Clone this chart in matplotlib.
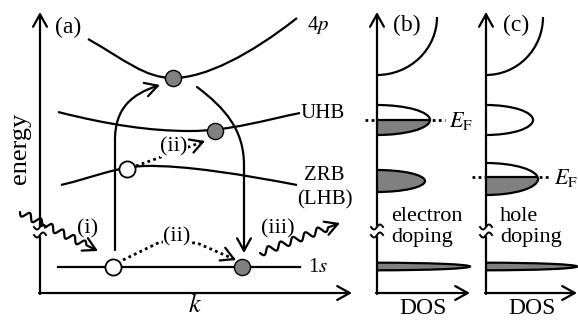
import numpy as np
import matplotlib.pyplot as plt
from matplotlib.path import Path
from matplotlib.patches import FancyArrowPatch, PathPatch, Ellipse, Arc, Rectangle

plt.rcParams['font.family'] = 'Liberation Serif'
plt.rcParams['mathtext.fontset'] = 'stix'

# everything is laid out in image pixels (x to the right, y downwards)

# panel (a): band dispersions, cubic Bezier control points
band_4p = [(88, 39), (125, 60), (145, 78), (173, 78), (205, 78), (250, 55), (297, 18)]
band_uhb = [(58, 112), (110, 125), (150, 131), (190, 131), (230, 131), (265, 120), (300, 113)]
band_zrb = [(61, 185), (95, 177), (115, 167), (145, 166), (185, 165), (245, 175), (297, 185)]
band_1s = [(58, 267), (300, 267)]

# occupied (grey) and empty (white) states
empty_x = [113, 127]
empty_y = [267, 169]
full_x = [173, 215, 242]
full_y = [78, 131, 267]

# transitions
excite_path = [(115, 250), (115, 140), (115, 108), (132, 94), (160, 85)]
decay_path = [(197, 87), (225, 108), (244, 130), (244, 165), (244, 253)]
hop_low = [(123, 260), (160, 242), (197, 243), (236, 260)]
hop_up = [(136, 166), (205, 141)]

# panels (b), (c): density of states
panel_names = ['(b)', '(c)']
axis_x = [377, 486]
axis_right = [470, 577]
fermi_y = [120, 177]
fermi_from = [365, 472]
fermi_to = [445, 550]
p4_width = [60, 57]
uhb_mid = [120, 120]
uhb_half = [15, 15]
uhb_peak = [53, 47]
lhb_mid = [181, 179]
lhb_half = [11, 16]
lhb_peak = [48, 52]
s1_mid = [266.5, 266.5]
s1_peak = [93, 91]
doping = ['electron\ndoping', 'hole\ndoping']
uhb_fill = [120, 999]   # grey below this y
lhb_fill = [0, 177]

LW = 1.6
GREY = '#808080'
HEAD = '->,head_length=9,head_width=5'
DOT = (0, (1, 1.2))

fig = plt.figure(figsize=(5.78, 3.23), dpi=100)
ax = fig.add_axes([0, 0, 1, 1])
ax.set_xlim(0, 578)
ax.set_ylim(323, 0)
ax.axis('off')


def bezier(pts, **kw):
    codes = [Path.MOVETO] + [Path.CURVE4] * (len(pts) - 1)
    ax.add_patch(PathPatch(Path(pts, codes), fill=False, lw=LW, **kw))


def arrow(x0, y0, x1, y1, z=3):
    ax.add_patch(FancyArrowPatch((x0, y0), (x1, y1), shrinkA=0, shrinkB=0,
                                 arrowstyle=HEAD, lw=LW, color='k', zorder=z))


def path_arrow(pts, codes, z=3):
    ax.add_patch(FancyArrowPatch(path=Path(pts, codes), arrowstyle=HEAD,
                                 lw=LW, color='k', zorder=z))


def dotted_arrow(xs, ys):
    # dotted shaft, solid head
    ax.plot(xs, ys, color='k', lw=2.0, ls=DOT, zorder=3)
    dx, dy = xs[-1] - xs[-2], ys[-1] - ys[-2]
    L = np.hypot(dx, dy)
    arrow(xs[-1] - dx / L * 3, ys[-1] - dy / L * 3, xs[-1], ys[-1])


def wavy(p0, p1, periods, amp):
    p0, p1 = np.array(p0, float), np.array(p1, float)
    d = p1 - p0
    n = np.array([-d[1], d[0]]) / np.hypot(*d)
    t = np.linspace(0, 0.85, 160)
    pts = p0 + np.outer(t, d) + np.outer(amp * np.sin(2 * np.pi * periods * t / 0.85), n)
    pts = np.vstack([pts, p1])
    path_arrow(pts, [Path.MOVETO] + [Path.LINETO] * (len(pts) - 1))


def axis_break(x, y):
    ax.add_patch(Rectangle((x - 3, y - 4), 6, 8, color='white', zorder=4))
    xs = np.linspace(x - 6, x + 6, 30)
    for yy in (y - 4, y + 4):
        ax.plot(xs, yy - 2.5 * np.sin((xs - x) / 6 * np.pi), color='k', lw=1.4, zorder=5)


# ---- panel (a) ----
arrow(40, 294, 40, 12)
arrow(39, 293, 352, 293)
axis_break(40, 231)

for b in (band_4p, band_uhb, band_zrb):
    bezier(b, color='k')
ax.plot(*zip(*band_1s), color='k', lw=LW)

path_arrow(excite_path, [Path.MOVETO, Path.LINETO, Path.CURVE4, Path.CURVE4, Path.CURVE4])
path_arrow(decay_path, [Path.MOVETO, Path.CURVE4, Path.CURVE4, Path.CURVE4, Path.LINETO])
dotted_arrow([p[0] for p in hop_low], [p[1] for p in hop_low])
dotted_arrow([p[0] for p in hop_up], [p[1] for p in hop_up])

ax.scatter(empty_x, empty_y, s=135, c='white', edgecolors='k', linewidths=1.3, zorder=6)
ax.scatter(full_x, full_y, s=135, c=GREY, edgecolors='k', linewidths=1.0, zorder=6)

wavy((20, 212), (98, 251), 6, 3.5)
wavy((260, 253), (340, 223), 5.5, 3.5)

ax.text(68, 27, '(a)', fontsize=17, ha='center', va='center')
ax.text(318, 25, '4$p$', fontsize=15, ha='center', va='center')
ax.text(323, 113, 'UHB', fontsize=15, ha='center', va='center')
ax.text(324, 175, 'ZRB', fontsize=15, ha='center', va='center')
ax.text(325, 200, '(LHB)', fontsize=15, ha='center', va='center')
ax.text(318, 268, '1$s$', fontsize=15, ha='center', va='center')
ax.text(88, 229, '(i)', fontsize=16, ha='center', va='center')
ax.text(177, 237, '(ii)', fontsize=16, ha='center', va='center', zorder=7,
        bbox=dict(fc='white', ec='none', pad=0.5))
ax.text(174, 147, '(ii)', fontsize=16, ha='center', va='center', zorder=7,
        bbox=dict(fc='white', ec='none', pad=0.5))
ax.text(278, 229, '(iii)', fontsize=16, ha='center', va='center')
ax.text(20, 148, 'energy', fontsize=19, rotation=90, ha='center', va='center')
ax.text(195, 306, '$k$', fontsize=19, ha='center', va='center')

# ---- panels (b), (c) ----
for i in range(2):
    x0 = axis_x[i]
    arrow(x0, 294, x0, 12)
    arrow(x0 - 1, 293, axis_right[i], 293)
    axis_break(x0, 231)

    w = p4_width[i]
    ax.add_patch(Arc((x0, 17), 2 * w, 116, theta1=0, theta2=90, lw=LW, color='k'))

    ax.plot([fermi_from[i], fermi_to[i]], [fermi_y[i]] * 2, color='k', lw=2.0,
            ls=DOT, zorder=1)

    lobes = [(uhb_mid[i], uhb_half[i], uhb_peak[i], uhb_fill[i]),
             (lhb_mid[i], lhb_half[i], lhb_peak[i], lhb_fill[i]),
             (s1_mid[i], 3.8, s1_peak[i], 0)]
    for yc, hh, pk, fill_y in lobes:
        clip = Rectangle((x0, yc - hh - 3), pk + 4, 2 * hh + 6, transform=ax.transData)
        e = Ellipse((x0, yc), 2 * pk, 2 * hh, fc='white', ec='none', zorder=2)
        ax.add_patch(e)
        e.set_clip_path(clip)
        g = Ellipse((x0, yc), 2 * pk, 2 * hh, fc=GREY, ec='none', zorder=2)
        ax.add_patch(g)
        g.set_clip_path(Rectangle((x0, max(fill_y, yc - hh - 3)), pk + 4, 2 * hh + 6,
                                  transform=ax.transData))
        o = Ellipse((x0, yc), 2 * pk, 2 * hh, fc='none', ec='k', lw=LW, zorder=3)
        ax.add_patch(o)
        o.set_clip_path(clip)
        if yc - hh < fermi_y[i] < yc + hh:
            ln, = ax.plot([x0, x0 + pk], [fermi_y[i]] * 2, color='k', lw=LW, zorder=3)
            ln.set_clip_path(Ellipse((x0, yc), 2 * pk, 2 * hh, transform=ax.transData))

    ax.text(fermi_to[i] + 4, fermi_y[i] + 1, '$E_{\\mathrm{F}}$', fontsize=16,
            ha='left', va='center')
    ax.text(x0 + 30, 25, panel_names[i], fontsize=17, ha='center', va='center')
    ax.text(x0 + 46, 309, 'DOS', fontsize=17, ha='center', va='center')
    ax.text(x0 + 14, 227, doping[i], fontsize=16, ha='left', va='center',
            linespacing=1.1)

fig.savefig('out.png', dpi=100)
